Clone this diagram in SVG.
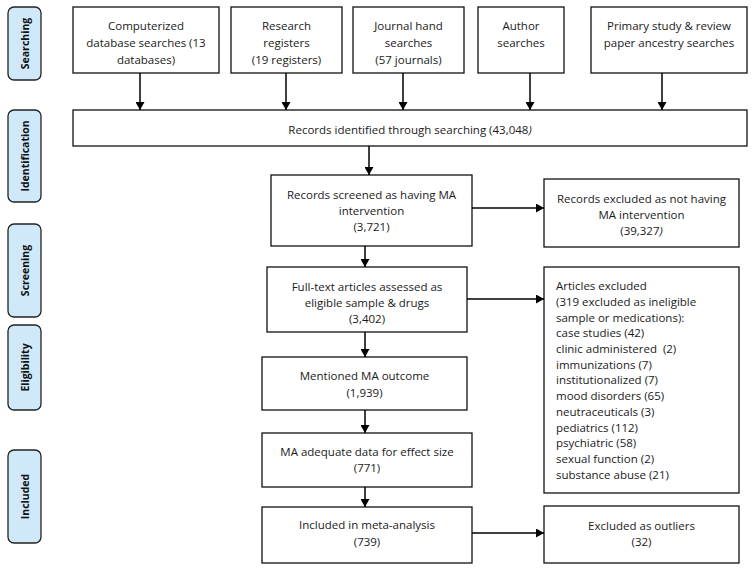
<svg xmlns="http://www.w3.org/2000/svg" width="754" height="571" viewBox="0 0 754 571">
<defs>
<style>
.box{fill:#fff;stroke:#111;stroke-width:1.3}
.lab{fill:#cfe9fb;stroke:#222;stroke-width:1.3}
.t{font-family:"Open Sans","Noto Sans",sans-serif;font-size:11.5px;fill:#1a1a1a;text-anchor:middle}
.tl{font-family:"Open Sans","Noto Sans",sans-serif;font-size:11.5px;fill:#1a1a1a;text-anchor:start}
.s{font-family:"Open Sans","Noto Sans",sans-serif;font-size:10.5px;font-weight:bold;fill:#111;text-anchor:middle}
.c{stroke:#000;stroke-width:1.5;fill:none;marker-end:url(#ah)}
.i{font-style:italic}
</style>
<marker id="ah" viewBox="0 0 10 10" refX="10" refY="5" markerWidth="8" markerHeight="9" markerUnits="userSpaceOnUse" orient="auto" preserveAspectRatio="none"><path d="M0,0 L10,5 L0,10 z" fill="#000"/></marker>
</defs>
<rect width="754" height="571" fill="#fff"/>
<g id="stages">
<g id="stage-searching"><rect class="lab" x="8" y="7" width="33" height="73" rx="6"/><text class="s" transform="translate(28.5,43.5) rotate(-90)">Searching</text></g>
<g id="stage-identification"><rect class="lab" x="8" y="110" width="33" height="92" rx="6"/><text class="s" transform="translate(28.5,156) rotate(-90)">Identification</text></g>
<g id="stage-screening"><rect class="lab" x="8" y="224" width="33" height="93" rx="6"/><text class="s" transform="translate(28.5,270.5) rotate(-90)">Screening</text></g>
<g id="stage-eligibility"><rect class="lab" x="8" y="325" width="33" height="85" rx="6"/><text class="s" transform="translate(28.5,367.5) rotate(-90)">Eligibility</text></g>
<g id="stage-included"><rect class="lab" x="8" y="450" width="33" height="93" rx="6"/><text class="s" transform="translate(28.5,496.5) rotate(-90)">Included</text></g>
</g>
<g id="n-computerized"><rect class="box" x="73" y="7" width="146" height="66"/><text class="t" x="146" y="30">Computerized</text><text class="t" x="146" y="47">database searches (13</text><text class="t" x="146" y="64">databases)</text></g>
<g id="n-registers"><rect class="box" x="231" y="7" width="111" height="66"/><text class="t" x="286.5" y="30">Research</text><text class="t" x="286.5" y="47">registers</text><text class="t" x="286.5" y="64">(19 registers)</text></g>
<g id="n-journals"><rect class="box" x="353" y="7" width="111" height="66"/><text class="t" x="408.5" y="30">Journal hand</text><text class="t" x="408.5" y="47">searches</text><text class="t" x="408.5" y="64">(57 journals)</text></g>
<g id="n-author"><rect class="box" x="478" y="7" width="86" height="66"/><text class="t" x="521" y="30">Author</text><text class="t" x="521" y="47">searches</text></g>
<g id="n-ancestry"><rect class="box" x="591" y="7" width="156" height="66"/><text class="t" x="669" y="30">Primary study &amp; review</text><text class="t" x="669" y="47">paper ancestry searches</text></g>
<g id="n-identified"><rect class="box" x="73" y="110" width="674" height="36"/><text class="t" x="410" y="134">Records identified through searching (43,048<tspan class="i">)</tspan></text></g>
<g id="n-screened"><rect class="box" x="271" y="175" width="201" height="71"/><text class="t" x="371.5" y="199">Records screened as having MA</text><text class="t" x="371.5" y="215">intervention</text><text class="t" x="371.5" y="231">(3,721)</text></g>
<g id="n-excluded-ma"><rect class="box" x="544" y="179" width="195" height="68"/><text class="t" x="641.5" y="203">Records excluded as not having</text><text class="t" x="641.5" y="219">MA intervention</text><text class="t" x="641.5" y="235">(39,327<tspan class="i">)</tspan></text></g>
<g id="n-fulltext"><rect class="box" x="267" y="267" width="200" height="65"/><text class="t" x="367" y="291">Full-text articles assessed as</text><text class="t" x="367" y="307">eligible sample &amp; drugs</text><text class="t" x="367" y="323">(3,402)</text></g>
<g id="n-articles-excluded"><rect class="box" x="544" y="267" width="195" height="226"/>
<text class="tl" x="556" y="290">Articles excluded</text>
<text class="tl" x="556" y="306">(319 excluded as ineligible</text>
<text class="tl" x="556" y="322">sample or medications):</text>
<text class="tl" x="556" y="337">case studies (42)</text>
<text class="tl" x="556" y="353" xml:space="preserve">clinic administered  (2)</text>
<text class="tl" x="556" y="369">immunizations (7)</text>
<text class="tl" x="556" y="384">institutionalized (7)</text>
<text class="tl" x="556" y="400">mood disorders (65)</text>
<text class="tl" x="556" y="416">neutraceuticals (3)</text>
<text class="tl" x="556" y="432">pediatrics (112)</text>
<text class="tl" x="556" y="447">psychiatric (58)</text>
<text class="tl" x="556" y="463">sexual function (2)</text>
<text class="tl" x="556" y="479">substance abuse (21)</text>
</g>
<g id="n-mentioned"><rect class="box" x="262" y="357" width="205" height="53"/><text class="t" x="364.5" y="380">Mentioned MA outcome</text><text class="t" x="364.5" y="397">(1,939)</text></g>
<g id="n-adequate"><rect class="box" x="262" y="433" width="210" height="54"/><text class="t" x="367" y="456">MA adequate data for effect size</text><text class="t" x="367" y="472">(771)</text></g>
<g id="n-included"><rect class="box" x="262" y="507" width="210" height="56"/><text class="t" x="367" y="529">Included in meta-analysis</text><text class="t" x="367" y="546">(739)</text></g>
<g id="n-outliers"><rect class="box" x="544" y="506" width="195" height="57"/><text class="t" x="641.5" y="530">Excluded as outliers</text><text class="t" x="641.5" y="546">(32)</text></g>
<g id="connectors">
<line class="c" x1="140" y1="73" x2="140" y2="110"/>
<line class="c" x1="286" y1="73" x2="286" y2="110"/>
<line class="c" x1="403" y1="73" x2="403" y2="110"/>
<line class="c" x1="530" y1="73" x2="530" y2="110"/>
<line class="c" x1="662" y1="73" x2="662" y2="110"/>
<line class="c" x1="369" y1="146" x2="369" y2="175"/>
<line class="c" x1="365" y1="246" x2="365" y2="267"/>
<line class="c" x1="365" y1="332" x2="365" y2="357"/>
<line class="c" x1="365" y1="410" x2="365" y2="433"/>
<line class="c" x1="365" y1="487" x2="365" y2="507"/>
<line class="c" x1="472" y1="208" x2="544" y2="208"/>
<line class="c" x1="467" y1="299" x2="544" y2="299"/>
<line class="c" x1="472" y1="533" x2="544" y2="533"/>
</g>
</svg>
